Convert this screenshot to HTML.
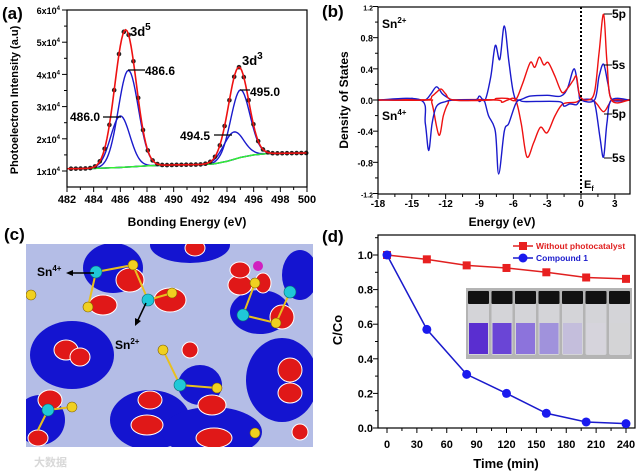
<!DOCTYPE html>
<html><head><meta charset="utf-8"><style>
html,body{margin:0;padding:0;background:#fff}
svg{display:block;font-family:"Liberation Sans",Arial,sans-serif;font-weight:bold}
</style></head><body>
<svg id="fig" width="640" height="472" viewBox="0 0 640 472" xmlns="http://www.w3.org/2000/svg">
<g id="pa"></g>
<g id="pb"></g>
<g id="pc"></g>
<g id="pd"></g>
</svg>
<script>
// ---- Panel (a) data ----
const aPeakCenters=[486.0,486.6,494.5,495.0];
const aPeakAmps=[16000,30000,8500,21000];
const aPeakWidths=[0.72,0.75,0.75,0.72];
const aBaseE=[482,484,486,488,490,492,493,494,495,496,497,498,500];
const aBaseV=[10700,10800,11100,11600,11900,12000,12200,13000,14200,15000,15400,15500,15600];
const aXTicks=[482,484,486,488,490,492,494,496,498,500];
const aYTicks=[1,2,3,4,5,6];
// ---- Panel (b) data ----
const bUpBlueE=[-18,-15.4,-15,-14.6,-13.8,-13.3,-12.8,-12.3,-11.8,-11.3,-9.4,-9,-8.5,-8,-7.6,-7.2,-6.8,-6.4,-6,-5.6,-4.5,-3,-1.8,-1.2,-0.6,-0.2,0,1.2,1.6,2,2.4,2.8,4.3];
const bUpBlueV=[0,0,0.02,0,0,0.08,0.17,0.08,0.03,0,0,0.05,0,0.3,0.7,0.52,0.95,0.5,0.1,0,0.05,0.06,0.05,0.15,0.4,0.1,0,0,0.3,0.46,0.2,0,0];
const bUpRedE=[-18,-13.8,-13.2,-12.8,-12.4,-12,-11.3,-8,-7.5,-6.5,-5.8,-5.2,-4.5,-4.1,-3.7,-3.3,-2.9,-2.3,-1.7,-1.2,-0.7,-0.4,-0.1,0.6,1.2,1.6,2,2.3,2.7,4.3];
const bUpRedV=[0,0,0.05,0.1,0.14,0.08,0,0,0.02,0.02,0,0.2,0.48,0.42,0.55,0.45,0.48,0.3,0.1,0.15,0.25,0.3,0.05,0,0.1,0.6,1.1,0.5,0,0];
const bDnBlueE=[-18,-14.2,-13.8,-13.5,-13.2,-12.8,-12,-11.3,-9.3,-9,-8.6,-8.2,-7.6,-7.3,-6.8,-6.4,-5.8,-5.4,-5,-2,-1.5,-1,-0.4,0,1,1.3,1.7,2,2.3,2.7,4.3];
const bDnBlueV=[0,0,-0.3,-0.65,-0.3,-0.08,-0.02,0,0,-0.02,0,-0.2,-0.4,-0.95,-0.4,-0.3,-0.05,0,-0.02,-0.02,-0.08,-0.05,-0.06,0,0,-0.1,-0.5,-0.73,-0.3,0,0];
const bDnRedE=[-18,-13.6,-13.2,-12.6,-12.2,-11.8,-11.3,-7.5,-7,-6.5,-5.8,-5.3,-4.8,-4.2,-3.6,-3,-2.3,-1.6,-0.5,0,1,1.4,2,2.5,2.8,4.3];
const bDnRedV=[0,0,-0.05,-0.45,-0.2,-0.05,0,0,-0.03,0,0,-0.3,-0.73,-0.55,-0.35,-0.42,-0.2,-0.05,-0.03,0,0,-0.05,-0.15,-0.05,0,0];
const bXTicks=[-18,-15,-12,-9,-6,-3,0,3];
const bYTicks=[-1.2,-0.8,-0.4,0.0,0.4,0.8,1.2];
// ---- Panel (d) data ----
const dTimes=[0,40,80,120,160,200,240];
const dWithout=[1.0,0.975,0.94,0.925,0.9,0.87,0.862];
const dCompound=[1.0,0.57,0.31,0.2,0.085,0.035,0.025];
const dXTicks=[0,30,60,90,120,150,180,210,240];
const dYTicks=[0.0,0.2,0.4,0.6,0.8,1.0];
const vialLiquid=['#5a2ed0','#6a45d6','#8c73dc','#a092dc','#c4bedc','#d6d4dc','#d4d4d6'];

const NS='http://www.w3.org/2000/svg';
function el(p,t,a,txt){const e=document.createElementNS(NS,t);for(const k in a)e.setAttribute(k,a[k]);if(txt!==undefined)e.textContent=txt;p.appendChild(e);return e;}
function smoothPath(pts){let d='M'+pts[0][0].toFixed(1)+','+pts[0][1].toFixed(1);
 for(let i=0;i<pts.length-1;i++){const p0=pts[Math.max(0,i-1)],p1=pts[i],p2=pts[i+1],p3=pts[Math.min(pts.length-1,i+2)];
 const c1=[p1[0]+(p2[0]-p0[0])/6,p1[1]+(p2[1]-p0[1])/6],c2=[p2[0]-(p3[0]-p1[0])/6,p2[1]-(p3[1]-p1[1])/6];
 d+='C'+c1[0].toFixed(1)+','+c1[1].toFixed(1)+' '+c2[0].toFixed(1)+','+c2[1].toFixed(1)+' '+p2[0].toFixed(1)+','+p2[1].toFixed(1);}return d;}

// ===== Panel A =====
(function(){
const g=document.getElementById('pa');
const L=67,R=307,T=10,B=187;
const x=v=>L+(v-482)/18*(R-L);
const y=v=>171-(v-10000)/10000*32.2;
function base(e){for(let i=0;i<aBaseE.length-1;i++){if(e<=aBaseE[i+1]){const t=(e-aBaseE[i])/(aBaseE[i+1]-aBaseE[i]);return aBaseV[i]+t*(aBaseV[i+1]-aBaseV[i]);}}return aBaseV[aBaseV.length-1];}
function comp(i,e){return aPeakAmps[i]*Math.exp(-0.5*Math.pow((e-aPeakCenters[i])/aPeakWidths[i],2));}
let t=el(g,'text',{x:2,y:19,'font-size':17},'(a)');
let bp=[];for(let e=482;e<=500.001;e+=0.1)bp.push([x(e),y(base(e))]);
for(let i=0;i<4;i++){let cp=[];for(let e=482;e<=500.001;e+=0.1)cp.push([x(e),y(base(e)+comp(i,e))]);
 let c=el(g,'path',{d:'M'+cp.map(q=>q.join(',')).join('L'),fill:'none',stroke:'#1a1acc','stroke-width':1.4});
 }
let p=el(g,'path',{d:'M'+bp.map(q=>q.join(',')).join('L'),fill:'none',stroke:'#33ee33','stroke-width':1.5});

let fp=[];for(let e=482;e<=500.001;e+=0.1){let s=base(e);for(let i=0;i<4;i++)s+=comp(i,e);fp.push([x(e),y(s)]);}
for(let e=482.3;e<=500;e+=0.36){let s=base(e);for(let i=0;i<4;i++)s+=comp(i,e);
 let d=el(g,'circle',{cx:x(e),cy:y(s),r:2.3,fill:'#222'});}
p=el(g,'path',{d:'M'+fp.map(q=>q.join(',')).join('L'),fill:'none',stroke:'#ee1111','stroke-width':1.6});

let ax=el(g,'rect',{x:L,y:T,width:R-L,height:B-T,fill:'none',stroke:'#000','stroke-width':1.2});

for(let v=482;v<=500;v++){el(g,'line',{x1:x(v),x2:x(v),y1:B,y2:B+(v%2?3:5),stroke:'#000','stroke-width':1});}
aXTicks.forEach(v=>{let tt=el(g,'text',{x:x(v),y:203,'font-size':11,'text-anchor':'middle'},String(v));});
aYTicks.forEach(v=>{const yy=y(v*10000);el(g,'line',{x1:L-5,x2:L,y1:yy,y2:yy,stroke:'#000'});
 if(v<6)el(g,'line',{x1:L-3,x2:L,y1:y(v*10000+5000),y2:y(v*10000+5000),stroke:'#000'});
 let tt=el(g,'text',{x:L-7,y:yy+4,'font-size':9,'text-anchor':'end'});
 el(tt,'tspan',{},v+'x10');el(tt,'tspan',{dy:-4,'font-size':6},'4');});
t=el(g,'text',{x:187,y:226,'font-size':12,'text-anchor':'middle'},'Bonding Energy (eV)');
t=el(g,'text',{x:0,y:0,'font-size':11,'text-anchor':'middle',transform:'translate(18,100) rotate(-90)'},'Photoelectron Intensity (a.u)');
function ann(txt,tx,ty,x1,y1,x2,name,sup){let tt=el(g,'text',{x:tx,y:ty,'font-size':sup?13:12});
 if(sup){el(tt,'tspan',{},txt);el(tt,'tspan',{dy:-6,'font-size':10},sup);}else tt.textContent=txt;
 if(x1!==null)el(g,'line',{x1:x1,x2:x2,y1:y1,y2:y1,stroke:'#000','stroke-width':1.2});}
ann('3d',130,36,null,0,0,'peak-label-3d5','5');
ann('3d',242,65,null,0,0,'peak-label-3d3','3');
ann('486.6',145,75,128,70,145,'label-486-6');
ann('486.0',70,121,103,117,121,'label-486-0');
ann('494.5',180,140,214,135,232,'label-494-5');
ann('495.0',250,96,240,90,250,'label-495-0');
})();

// ===== Panel B =====
(function(){
const g=document.getElementById('pb');
const L=378,R=630,T=7,B=194;
const x=v=>581+v*11.28;
const y=v=>100-v/1.2*93.5;
let t=el(g,'text',{x:322,y:17,'font-size':17},'(b)');
const series=[[bUpBlueE,bUpBlueV,'#1a1acc','sn2-5s-dos'],[bDnRedE,bDnRedV,'#ee1111','sn4-5p-dos'],[bDnBlueE,bDnBlueV,'#1a1acc','sn4-5s-dos'],[bUpRedE,bUpRedV,'#ee1111','sn2-5p-dos']];
series.forEach(s=>{const pts=s[0].map((e,i)=>[x(e),y(s[1][i])]);
 let p=el(g,'path',{d:smoothPath(pts),fill:'none',stroke:s[2],'stroke-width':1.4});});
let f=el(g,'line',{x1:x(0),x2:x(0),y1:T,y2:B,stroke:'#000','stroke-width':2,'stroke-dasharray':'2,2'});
let ax=el(g,'rect',{x:L,y:T,width:R-L,height:B-T,fill:'none',stroke:'#000','stroke-width':1.2});
for(let v=-18;v<=4;v+=1.5){el(g,'line',{x1:x(v),x2:x(v),y1:B,y2:B+(Math.abs(v%3)<0.01?5:3),stroke:'#000'});}
bXTicks.forEach(v=>{let tt=el(g,'text',{x:x(v),y:207,'font-size':10,'text-anchor':'middle'},String(v));});
bYTicks.forEach(v=>{el(g,'line',{x1:L-5,x2:L,y1:y(v),y2:y(v),stroke:'#000'});if(v<1.2)el(g,'line',{x1:L-3,x2:L,y1:y(v+0.2),y2:y(v+0.2),stroke:'#000'});
 let tt=el(g,'text',{x:L-5,y:y(v)+4,'font-size':v===1.2||v===-1.2?7:9,'text-anchor':'end'},v.toFixed(1));});
t=el(g,'text',{x:0,y:0,'font-size':12,'text-anchor':'middle',transform:'translate(348,100) rotate(-90)'},'Density of States');
t=el(g,'text',{x:502,y:226,'font-size':12,'text-anchor':'middle'},'Energy (eV)');
function lab(txt,sup,tx,ty,name){let tt=el(g,'text',{x:tx,y:ty,'font-size':12});el(tt,'tspan',{},txt);el(tt,'tspan',{dy:-5,'font-size':8},sup);}
lab('Sn','2+',382,28,'sn2-label');lab('Sn','4+',382,120,'sn4-label');
t=el(g,'text',{x:584,y:188,'font-size':11},'E');el(t,'tspan',{dy:3,'font-size':7},'f');
[['5p',18],['5s',69],['5p',118],['5s',162]].forEach((q,i)=>{el(g,'line',{x1:604,x2:612,y1:q[1]-4,y2:q[1]-4,stroke:'#000'});
 let tt=el(g,'text',{x:612,y:q[1],'font-size':12},q[0]);});
})();

// ===== Panel C (illustration) =====
(function(){
const g=document.getElementById('pc');
let t=el(g,'text',{x:4,y:240,'font-size':17},'(c)');
el(g,'defs',{}).innerHTML='<clipPath id="cc"><rect x="26" y="244" width="287" height="203"/></clipPath>';
const c=el(g,'g',{'clip-path':'url(#cc)'});
el(c,'rect',{x:26,y:244,width:287,height:203,fill:'#b4bde6'});
const blue=[[72,355,42,34],[150,420,40,30],[212,432,50,25],[282,380,36,42],[260,312,30,22],[113,268,30,25],[190,245,40,18],[40,420,25,25],[200,385,22,20],[300,275,18,25]];
blue.forEach(b=>{let e=el(c,'ellipse',{cx:b[0],cy:b[1],rx:b[2],ry:b[3],fill:'#1414d0'});});
const red=[[66,350,12,10],[80,357,10,9],[150,400,12,9],[147,425,16,10],[214,438,18,10],[290,370,12,12],[290,393,12,10],[130,280,14,12],[103,305,14,10],[170,300,16,12],[240,285,12,10],[282,317,12,12],[212,405,14,10],[50,400,12,10],[38,438,10,8],[195,248,10,8],[263,283,8,10],[240,270,10,8],[190,350,8,8],[300,432,8,8]];
red.forEach(b=>{let e=el(c,'ellipse',{cx:b[0],cy:b[1],rx:b[2],ry:b[3],fill:'#e01818',stroke:'#fff','stroke-width':1});});
const bonds=[[96,272,133,265],[96,272,88,307],[133,265,148,300],[148,300,172,293],[163,350,180,385],[180,385,217,388],[255,283,243,315],[243,315,276,323],[276,323,290,292],[48,410,72,407],[48,410,38,430]];
bonds.forEach(b=>el(c,'line',{x1:b[0],y1:b[1],x2:b[2],y2:b[3],stroke:'#e8c020','stroke-width':2}));
const sn=[[96,272],[148,300],[243,315],[290,292],[180,385],[48,410]];
const s=[[133,265],[88,307],[172,293],[255,283],[276,323],[163,350],[217,388],[72,407],[255,433],[31,295]];
sn.forEach(a=>{let e=el(c,'circle',{cx:a[0],cy:a[1],r:6,fill:'#20c8d8',stroke:'#0a6a70','stroke-width':0.6});});
s.forEach(a=>{let e=el(c,'circle',{cx:a[0],cy:a[1],r:5,fill:'#f0d020',stroke:'#806000','stroke-width':0.6});});
el(c,'circle',{cx:258,cy:266,r:5,fill:'#d020c0'});
el(g,'line',{x1:94,y1:273,x2:72,y2:273,stroke:'#000','stroke-width':1.5});el(g,'polygon',{points:'66,273 73,270 73,276',fill:'#000'});
el(g,'line',{x1:146,y1:303,x2:138,y2:320,stroke:'#000','stroke-width':1.5});el(g,'polygon',{points:'135,326 135,318 141,321',fill:'#000'});
t=el(g,'text',{x:37,y:276,'font-size':12});el(t,'tspan',{},'Sn');el(t,'tspan',{dy:-5,'font-size':8},'4+');
t=el(g,'text',{x:115,y:349,'font-size':12});el(t,'tspan',{},'Sn');el(t,'tspan',{dy:-5,'font-size':8},'2+');
t=el(g,'text',{x:34,y:466,'font-size':11,fill:'#d8d8d8',style:'font-family:"Liberation Sans","Noto Sans CJK SC",sans-serif'},'大数据');
})();

// ===== Panel D =====
(function(){
const g=document.getElementById('pd');
const L=378,R=635,T=235,B=428;
const x=v=>387+v/240*239;
const y=v=>428-v/0.2*34.6;
let t=el(g,'text',{x:322,y:242,'font-size':17},'(d)');
const ph=el(g,'g',{});
el(ph,'rect',{x:466,y:288,width:166,height:71,fill:'#b4b4b4'});
vialLiquid.forEach((col,i)=>{const vx=468+i*23.5;
 el(ph,'rect',{x:vx,y:292,width:21,height:63,fill:'#d4d4d8',rx:2});
 el(ph,'rect',{x:vx,y:291,width:21,height:13,fill:'#111',rx:1});
 let l=el(ph,'rect',{x:vx+1,y:323,width:19,height:31,fill:col});});
let ax=el(g,'rect',{x:L,y:T,width:R-L,height:B-T,fill:'none',stroke:'#000','stroke-width':1.2});
for(let v=0;v<=240;v+=15)el(g,'line',{x1:x(v),x2:x(v),y1:B,y2:B+(v%30?3:5),stroke:'#000'});
dXTicks.forEach(v=>{let tt=el(g,'text',{x:x(v),y:448,'font-size':11,'text-anchor':'middle'},String(v));});
dYTicks.forEach(v=>{el(g,'line',{x1:L-5,x2:L,y1:y(v),y2:y(v),stroke:'#000'});el(g,'line',{x1:L-3,x2:L,y1:y(v+0.1),y2:y(v+0.1),stroke:'#000'});
 let tt=el(g,'text',{x:L-5,y:y(v)+4,'font-size':11,'text-anchor':'end'},v.toFixed(1));});
t=el(g,'text',{x:0,y:0,'font-size':13,'text-anchor':'middle',transform:'translate(342,330) rotate(-90)'},'C/Co');
t=el(g,'text',{x:506,y:468,'font-size':13,'text-anchor':'middle'},'Time (min)');
let p=el(g,'polyline',{points:dTimes.map((tm,i)=>x(tm)+','+y(dWithout[i])).join(' '),fill:'none',stroke:'#e02020','stroke-width':1.5});
dTimes.forEach((tm,i)=>{let r=el(g,'rect',{x:x(tm)-4,y:y(dWithout[i])-4,width:8,height:8,fill:'#e82020'});});
p=el(g,'polyline',{points:dTimes.map((tm,i)=>x(tm)+','+y(dCompound[i])).join(' '),fill:'none',stroke:'#1a1acc','stroke-width':1.5});
dTimes.forEach((tm,i)=>{let r=el(g,'circle',{cx:x(tm),cy:y(dCompound[i]),r:4.5,fill:'#1a1aee'});});
const lg=el(g,'g',{});
el(lg,'line',{x1:513,x2:533,y1:246,y2:246,stroke:'#e02020','stroke-width':1.5});el(lg,'rect',{x:519,y:242,width:8,height:8,fill:'#e82020'});
t=el(lg,'text',{x:536,y:249,'font-size':8.5,fill:'#e02020'},'Without photocatalyst');
el(lg,'line',{x1:513,x2:533,y1:258,y2:258,stroke:'#1a1acc','stroke-width':1.5});el(lg,'circle',{cx:523,cy:258,r:4.5,fill:'#1a1aee'});
t=el(lg,'text',{x:536,y:261,'font-size':8.5,fill:'#1a1acc'},'Compound 1');
})();
</script>
</body></html>
